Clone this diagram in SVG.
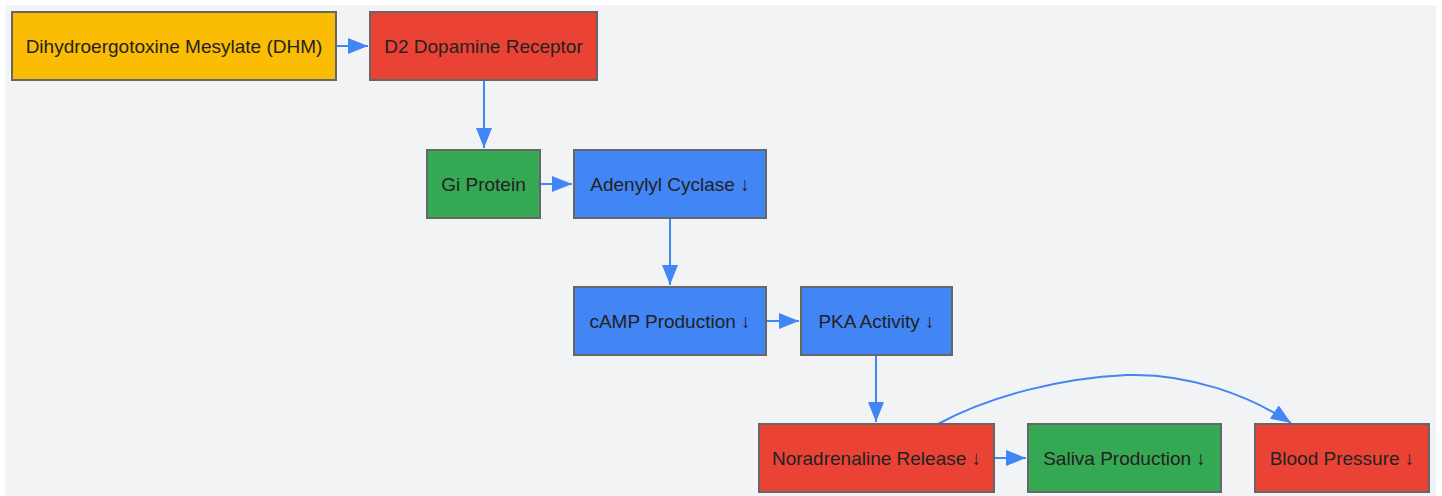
<svg xmlns="http://www.w3.org/2000/svg" width="1442" height="496" viewBox="0 0 1442 496">
<style>
.n{stroke:#666;stroke-width:2}
.t{font-family:"Liberation Sans",Arial,sans-serif;font-size:19px;fill:#222;text-anchor:middle;dominant-baseline:central}
.e{fill:none;stroke:#4285F4;stroke-width:2}
</style>
<defs>
<marker id="a" viewBox="0 0 10 10" refX="10" refY="5" markerWidth="10" markerHeight="8" markerUnits="strokeWidth" orient="auto" preserveAspectRatio="none">
<path d="M0,0L10,5L0,10z" fill="#4285F4"/>
</marker>
</defs>
<rect x="5" y="5" width="1431" height="491" fill="#f1f3f5"/>
<g id="connectors">
<path class="e" d="M336,46L368,46" marker-end="url(#a)"/>
<path class="e" d="M484,80L484,148" marker-end="url(#a)"/>
<path class="e" d="M540,184L572,184" marker-end="url(#a)"/>
<path class="e" d="M670,218L670,285" marker-end="url(#a)"/>
<path class="e" d="M766,321L799,321" marker-end="url(#a)"/>
<path class="e" d="M876,355L876,422" marker-end="url(#a)"/>
<path class="e" d="M994,458L1026,458" marker-end="url(#a)"/>
<path class="e" d="M938,424C990,396 1060,378 1127,375C1190,373 1250,396 1291,423" marker-end="url(#a)"/>
</g>
<g id="dhm"><rect class="n" x="12" y="12" width="324" height="68" fill="#FBBC04"/><text class="t" x="174" y="46">Dihydroergotoxine Mesylate (DHM)</text></g>
<g id="d2"><rect class="n" x="370" y="12" width="227" height="68" fill="#EA4335"/><text class="t" x="483.5" y="46">D2 Dopamine Receptor</text></g>
<g id="gi"><rect class="n" x="427" y="150" width="113" height="68" fill="#34A853"/><text class="t" x="483.5" y="184">Gi Protein</text></g>
<g id="ac"><rect class="n" x="574" y="150" width="192" height="68" fill="#4285F4"/><text class="t" x="670" y="184">Adenylyl Cyclase ↓</text></g>
<g id="camp"><rect class="n" x="574" y="287" width="192" height="68" fill="#4285F4"/><text class="t" x="670" y="321">cAMP Production ↓</text></g>
<g id="pka"><rect class="n" x="801" y="287" width="151" height="68" fill="#4285F4"/><text class="t" x="876.5" y="321">PKA Activity ↓</text></g>
<g id="na"><rect class="n" x="759" y="424" width="235" height="68" fill="#EA4335"/><text class="t" x="876.5" y="458">Noradrenaline Release ↓</text></g>
<g id="saliva"><rect class="n" x="1028" y="424" width="193" height="68" fill="#34A853"/><text class="t" x="1124.5" y="458">Saliva Production ↓</text></g>
<g id="bp"><rect class="n" x="1255" y="424" width="174" height="68" fill="#EA4335"/><text class="t" x="1342" y="458">Blood Pressure ↓</text></g>
</svg>
